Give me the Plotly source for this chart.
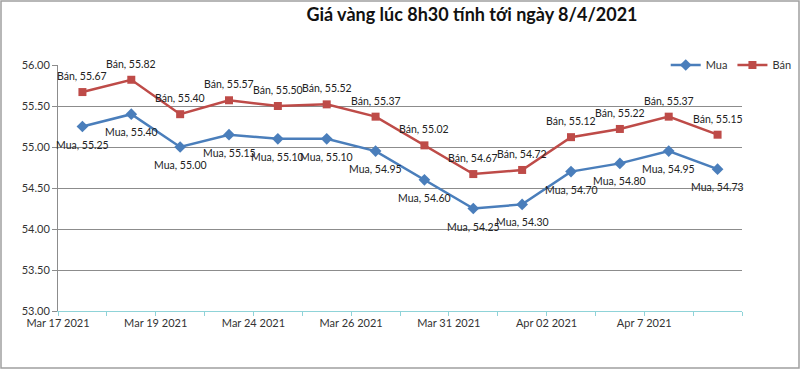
import plotly.graph_objects as go

dates = ["Mar 17 2021", "Mar 18 2021", "Mar 19 2021", "Mar 23 2021", "Mar 24 2021",
         "Mar 25 2021", "Mar 26 2021", "Mar 30 2021", "Mar 31 2021", "Apr 01 2021",
         "Apr 02 2021", "Apr 6 2021", "Apr 7 2021", "Apr 8 2021"]
tick_labels = ["Mar 17 2021", "Mar 19 2021", "Mar 24 2021", "Mar 26 2021",
               "Mar 31 2021", "Apr 02 2021", "Apr 7 2021"]
mua = [55.25, 55.40, 55.00, 55.15, 55.10, 55.10, 54.95, 54.60, 54.25, 54.30, 54.70, 54.80, 54.95, 54.73]
ban = [55.67, 55.82, 55.40, 55.57, 55.50, 55.52, 55.37, 55.02, 54.67, 54.72, 55.12, 55.22, 55.37, 55.15]

FONT = "Lato"
xpos = [i + 0.5 for i in range(len(dates))]

fig = go.Figure()
fig.add_trace(go.Scatter(
    x=xpos, y=mua, name="Mua", mode="lines+markers",
    line=dict(color="#4A7EBB", width=2.5),
    marker=dict(symbol="diamond", size=9, color="#4A7EBB"),
    customdata=dates,
))
fig.add_trace(go.Scatter(
    x=xpos, y=ban, name="Bán", mode="lines+markers",
    line=dict(color="#BE4B48", width=2.5),
    marker=dict(symbol="square", size=8, color="#BE4B48"),
    customdata=dates,
))

annotations = []
for x, v in zip(xpos, mua):
    annotations.append(dict(x=x, y=v, xref="x", yref="y", text=f"Mua, {v:.2f}",
                            showarrow=False, yshift=-18, yanchor="middle",
                            font=dict(family=FONT, size=10.5, color="#222222")))
for x, v in zip(xpos, ban):
    annotations.append(dict(x=x, y=v, xref="x", yref="y", text=f"Bán, {v:.2f}",
                            showarrow=False, yshift=16, yanchor="middle",
                            font=dict(family=FONT, size=10.5, color="#222222")))

tickvals = list(range(len(dates) + 1))
ticktext = []
for i in tickvals:
    ticktext.append(tick_labels[i // 2] if i % 2 == 0 and i // 2 < len(tick_labels) else "")

L, R, T, B = 58, 58, 65, 59
W, H = 800, 370
pw, ph = W - L - R, H - T - B

fig.update_layout(
    width=W, height=H,
    margin=dict(l=L, r=R, t=T, b=B, autoexpand=False),
    paper_bgcolor="white", plot_bgcolor="white",
    font=dict(family=FONT, size=11, color="#333333"),
    title=dict(text="<b>Giá vàng lúc 8h30 tính tới ngày 8/4/2021</b>",
               x=472 / W, xref="container", xanchor="center",
               y=1 - 15 / H, yref="container", yanchor="middle",
               font=dict(family=FONT, size=18, color="#111111")),
    showlegend=True,
    legend=dict(orientation="h", x=1.08, xanchor="right", y=1.0, yanchor="middle",
                bgcolor="white", font=dict(family=FONT, size=11, color="#333333"),
                itemwidth=30, traceorder="normal"),
    annotations=annotations,
    xaxis=dict(range=[0, len(dates)], tickmode="array", tickvals=tickvals, ticktext=ticktext,
               showgrid=False, zeroline=False, showline=True, linecolor="#8FD3D8", linewidth=1,
               ticks="outside", ticklen=4, tickcolor="#8FD3D8", ticklabelstandoff=-2,
               tickfont=dict(family=FONT, size=11, color="#333333")),
    yaxis=dict(range=[53, 56], dtick=0.5, tickformat=".2f",
               showgrid=True, gridcolor="#8C8C8C", gridwidth=1, zeroline=False,
               showline=True, linecolor="#8C8C8C", linewidth=1,
               ticks="outside", ticklen=5, tickcolor="#8C8C8C",
               tickfont=dict(family=FONT, size=11, color="#333333")),
    shapes=[dict(type="rect", xref="paper", yref="paper",
                 x0=(1 - L) / pw, x1=(W - 1 - L) / pw,
                 y0=(H - B - (H - 2)) / ph, y1=(H - B - 1) / ph,
                 line=dict(color="#A0A0A0", width=1.5), fillcolor="rgba(0,0,0,0)", layer="below")],
)

fig.write_html("out.html", config={"displayModeBar": False},
               post_script="document.body.style.margin='0px';")
